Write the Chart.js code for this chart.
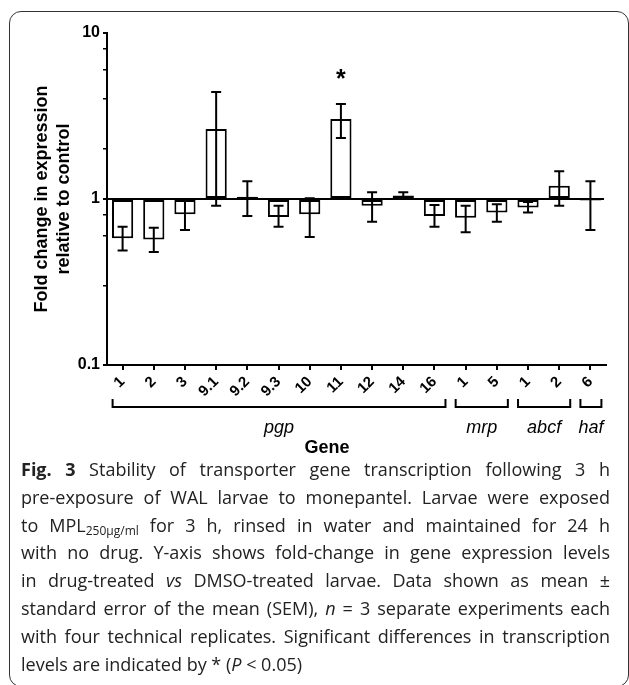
<!DOCTYPE html>
<html>
<head>
<meta charset="utf-8">
<script src="https://cdn.jsdelivr.net/npm/chart.js@4"></script>
<style>
  body { margin: 0; background: #fff; width: 629px; height: 685px; position: relative; overflow: hidden; }
  #frame { position: absolute; left: 9px; top: 11px; width: 620px; height: 676px; border: 1.5px solid #333; border-radius: 12px; box-sizing: border-box; }
  #chart { position: absolute; left: 0; top: 0; }
  #gene { position: absolute; left: 292px; top: 437px; width: 70px; text-align: center; font: bold 18px "Liberation Sans", Arial, sans-serif; }
  #caption { position: absolute; left: 21px; top: 456px; width: 589px; font-family: "Open Sans", sans-serif; font-size: 18px; color: #222; }
  #caption div { height: 27.8px; line-height: 27.8px; white-space: nowrap; text-align: justify; text-align-last: justify; }
  #caption div.last { text-align-last: left; }
  #caption sub { font-size: 12px; vertical-align: -3px; line-height: 0; }
</style>
</head>
<body>
<div id="frame"></div>
<canvas id="chart" width="629" height="460"></canvas>
<div id="gene">Gene</div>
<div id="caption">
  <div><b>Fig. 3</b> Stability of transporter gene transcription following 3 h</div>
  <div>pre-exposure of WAL larvae to monepantel. Larvae were exposed</div>
  <div>to MPL<sub>250µg/ml</sub> for 3 h, rinsed in water and maintained for 24 h</div>
  <div>with no drug. Y-axis shows fold-change in gene expression levels</div>
  <div>in drug-treated <i>vs</i> DMSO-treated larvae. Data shown as mean ±</div>
  <div>standard error of the mean (SEM), <i>n</i> = 3 separate experiments each</div>
  <div>with four technical replicates. Significant differences in transcription</div>
  <div class="last">levels are indicated by * (<i>P</i> &lt; 0.05)</div>
</div>
<script>
// gene labels along the x axis
const labels = ['1', '2', '3', '9.1', '9.2', '9.3', '10', '11', '12', '14', '16', '1', '5', '1', '2', '6'];
// mean fold change and the ends of the SEM bars
const foldChange = [0.58, 0.57, 0.81, 2.64, 1.03, 0.78, 0.81, 3.03, 0.91, 1.05, 0.79, 0.77, 0.83, 0.89, 1.20, 0.98];
const errUpper = [0.68, 0.67, 0.99, 4.41, 1.28, 0.91, 1.01, 3.73, 1.10, 1.10, 0.92, 0.91, 0.93, 0.96, 1.47, 1.28];
const errLower = [0.49, 0.48, 0.65, 0.91, 0.79, 0.68, 0.59, 2.33, 0.73, 1.00, 0.68, 0.63, 0.73, 0.83, 0.91, 0.65];
// gene families: name, first and last index
const groupNames = ['pgp', 'mrp', 'abcf', 'haf'];
const groupStart = [0, 11, 13, 15];
const groupEnd = [10, 12, 14, 15];
// significant genes
const significant = [7];
const yTickLabels = [0.1, 1, 10];

const FONT = '"Liberation Sans", Arial, sans-serif';

// squeeze caption lines that are wider than the column
document.querySelectorAll('#caption div').forEach(line => {
    let ls = 0;
    line.style.textAlignLast = 'left';
    const range = document.createRange();
    range.selectNodeContents(line);
    while (range.getBoundingClientRect().width > 589 && ls > -2) {
        ls -= 0.1;
        line.style.letterSpacing = ls + 'px';
    }
    line.style.textAlignLast = '';
});

const overlay = {
    id: 'overlay',
    afterDatasetsDraw(chart) {
        const {ctx, chartArea, scales: {x, y}} = chart;
        ctx.save();
        ctx.strokeStyle = '#000';
        ctx.lineWidth = 2;

        // reference line at 1
        const y1 = y.getPixelForValue(1);
        ctx.beginPath();
        ctx.moveTo(chartArea.left, y1);
        ctx.lineTo(chartArea.right - 2, y1);
        ctx.stroke();

        // error bars
        labels.forEach((_, i) => {
            const cx = x.getPixelForValue(i);
            const hi = y.getPixelForValue(errUpper[i]);
            const lo = y.getPixelForValue(errLower[i]);
            ctx.beginPath();
            ctx.moveTo(cx, hi); ctx.lineTo(cx, lo);
            ctx.moveTo(cx - 5, hi); ctx.lineTo(cx + 5, hi);
            ctx.moveTo(cx - 5, lo); ctx.lineTo(cx + 5, lo);
            ctx.stroke();
        });

        // asterisks
        ctx.fillStyle = '#000';
        ctx.font = 'bold 25px ' + FONT;
        ctx.textAlign = 'center';
        ctx.textBaseline = 'alphabetic';
        significant.forEach(i => {
            ctx.fillText('*', x.getPixelForValue(i), y.getPixelForValue(errUpper[i]) - 17);
        });
        ctx.restore();
    },
    afterDraw(chart) {
        const {ctx, chartArea, scales: {x}} = chart;
        const top = chartArea.bottom + 34;
        const bottom = chartArea.bottom + 42;
        ctx.save();
        ctx.strokeStyle = '#000';
        ctx.lineWidth = 2;
        ctx.fillStyle = '#000';
        ctx.font = 'italic 18px ' + FONT;
        ctx.textAlign = 'center';
        ctx.textBaseline = 'middle';
        groupNames.forEach((name, g) => {
            const left = x.getPixelForValue(groupStart[g]) - 10;
            const right = x.getPixelForValue(groupEnd[g]) + 11;
            ctx.beginPath();
            ctx.moveTo(left, top);
            ctx.lineTo(left, bottom);
            ctx.lineTo(right, bottom);
            ctx.lineTo(right, top);
            ctx.stroke();
            ctx.fillText(name, (left + right) / 2, bottom + 21);
        });
        ctx.restore();
    }
};

new Chart(document.getElementById('chart'), {
    type: 'bar',
    data: {
        labels: labels,
        datasets: [{
            data: foldChange,
            base: 1,
            backgroundColor: '#fff',
            borderColor: '#000',
            borderWidth: 2,
            borderSkipped: false,
            barPercentage: 0.68,
            categoryPercentage: 1
        }]
    },
    options: {
        responsive: false,
        animation: false,
        layout: { padding: { top: 33, right: 23, left: 0, bottom: 0 } },
        plugins: { legend: { display: false }, tooltip: { enabled: false } },
        scales: {
            x: {
                afterFit: scale => { scale.height = 95; },
                grid: { drawOnChartArea: false, offset: false, tickLength: 5, color: '#000', lineWidth: 2 },
                border: { display: true, color: '#000', width: 2 },
                ticks: {
                    autoSkip: false, minRotation: 45, maxRotation: 45, padding: 3,
                    color: '#000', font: { family: FONT, size: 15, weight: 'bold' }
                }
            },
            y: {
                type: 'logarithmic',
                min: 0.1,
                max: 10,
                afterFit: scale => { scale.width = 107; },
                grid: {
                    drawOnChartArea: false, tickLength: 4, color: '#000',
                    lineWidth: ctx => (ctx.tick && ctx.tick.major ? 2 : 1.5)
                },
                border: { display: true, color: '#000', width: 2 },
                ticks: {
                    padding: 3,
                    color: '#000',
                    font: { family: FONT, size: 16, weight: 'bold' },
                    callback: v => (yTickLabels.some(t => Math.abs(t - v) < 1e-9) ? String(v) : '')
                },
                title: {
                    display: true,
                    text: ['Fold change in expression', 'relative to control'],
                    color: '#000',
                    font: { family: FONT, size: 18, weight: 'bold', lineHeight: 1.17 },
                    padding: { top: 32, bottom: 0 }
                }
            }
        }
    },
    plugins: [overlay]
});
</script>
</body>
</html>
